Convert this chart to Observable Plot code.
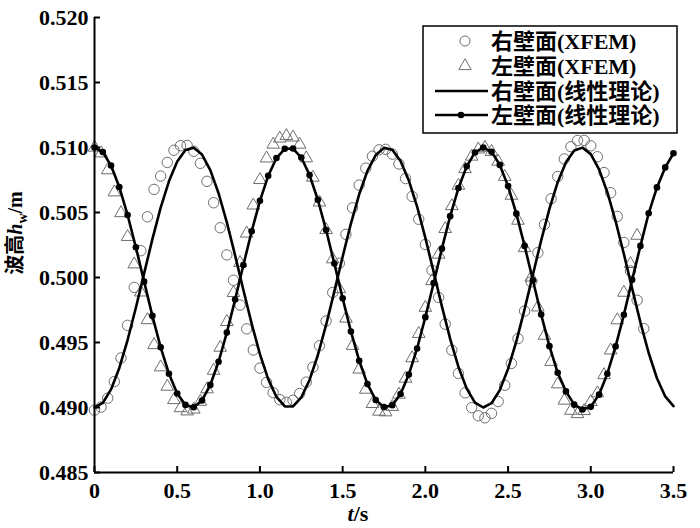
<!DOCTYPE html>
<html><head><meta charset="utf-8">
<script src="https://cdn.jsdelivr.net/npm/d3@7"></script>
<script src="https://cdn.jsdelivr.net/npm/@observablehq/plot@0.6"></script>
<style>body{margin:0;background:#fff;}</style>
</head><body><div id="chart"></div>
<script>
// time grid of the linear-theory curves (s)
const tLine = [0,0.05,0.1,0.15,0.2,0.25,0.3,0.35,0.4,0.45,0.5,0.55,0.6,0.65,0.7,0.75,0.8,0.85,0.9,0.95,1,1.05,1.1,1.15,1.2,1.25,1.3,1.35,1.4,1.45,1.5,1.55,1.6,1.65,1.7,1.75,1.8,1.85,1.9,1.95,2,2.05,2.1,2.15,2.2,2.25,2.3,2.35,2.4,2.45,2.5,2.55,2.6,2.65,2.7,2.75,2.8,2.85,2.9,2.95,3,3.05,3.1,3.15,3.2,3.25,3.3,3.35,3.4,3.45,3.5];
// right wall, linear theory (m)
const rightLinear = [0.49000,0.49035,0.49139,0.49304,0.49519,0.49767,0.50032,0.50295,0.50537,0.50740,
0.50892,0.50980,0.50998,0.50946,0.50826,0.50648,0.50424,0.50170,0.49904,0.49645,
0.49410,0.49218,0.49081,0.49010,0.49008,0.49077,0.49212,0.49402,0.49635,0.49893,
0.50160,0.50415,0.50640,0.50820,0.50942,0.50997,0.50982,0.50896,0.50747,0.50546,
0.50305,0.50043,0.49778,0.49528,0.49312,0.49145,0.49038,0.49000,0.49033,0.49134,
0.49297,0.49509,0.49757,0.50021,0.50285,0.50528,0.50733,0.50887,0.50977,0.50999,
0.50949,0.50832,0.50656,0.50434,0.50181,0.49915,0.49655,0.49419,0.49225,0.49085,
0.49011];
// left wall, linear theory (m)
const leftLinear = [0.51000,0.50965,0.50861,0.50696,0.50481,0.50233,0.49968,0.49705,0.49463,0.49260,
0.49108,0.49020,0.49002,0.49054,0.49174,0.49352,0.49576,0.49830,0.50096,0.50355,
0.50590,0.50782,0.50919,0.50990,0.50992,0.50923,0.50788,0.50598,0.50365,0.50107,
0.49840,0.49585,0.49360,0.49180,0.49058,0.49003,0.49018,0.49104,0.49253,0.49454,
0.49695,0.49957,0.50222,0.50472,0.50688,0.50855,0.50962,0.51000,0.50967,0.50866,
0.50703,0.50491,0.50243,0.49979,0.49715,0.49472,0.49267,0.49124,0.49022,0.48985,
0.49005,0.49099,0.49260,0.49470,0.49713,0.49982,0.50243,0.50494,0.50693,0.50847,
0.50956];
// time grid of the XFEM results (s)
const tXfem = [0,0.04,0.08,0.12,0.16,0.2,0.24,0.28,0.32,0.36,
0.4,0.44,0.48,0.52,0.56,0.6,0.64,0.68,0.72,0.76,
0.8,0.84,0.88,0.92,0.96,1,1.04,1.08,1.12,1.16,
1.2,1.24,1.28,1.32,1.36,1.4,1.44,1.48,1.52,1.56,
1.6,1.64,1.68,1.72,1.76,1.8,1.84,1.88,1.92,1.96,
2,2.04,2.08,2.12,2.16,2.2,2.24,2.28,2.32,2.36,
2.4,2.44,2.48,2.52,2.56,2.6,2.64,2.68,2.72,2.76,
2.8,2.84,2.88,2.92,2.96,3,3.04,3.08,3.12,3.16,
3.2,3.24,3.28,3.32];
// right wall, XFEM (m)
const rightXfem = [0.48980,0.49003,0.49072,0.49199,0.49381,0.49632,0.49924,0.50206,0.50467,0.50678,
0.50780,0.50885,0.50979,0.51014,0.51016,0.50971,0.50878,0.50740,0.50575,0.50383,
0.50174,0.49979,0.49788,0.49605,0.49442,0.49303,0.49193,0.49114,0.49060,0.49040,
0.49056,0.49108,0.49195,0.49310,0.49475,0.49666,0.49885,0.50110,0.50332,0.50536,
0.50711,0.50841,0.50933,0.50982,0.50986,0.50949,0.50873,0.50761,0.50624,0.50448,
0.50254,0.50055,0.49847,0.49641,0.49441,0.49262,0.49113,0.48999,0.48936,0.48921,
0.48955,0.49046,0.49171,0.49339,0.49530,0.49742,0.49966,0.50191,0.50408,0.50606,
0.50777,0.50912,0.51006,0.51054,0.51055,0.51013,0.50929,0.50807,0.50652,0.50470,
0.50269,0.50050,0.49825,0.49607];
// left wall, XFEM (m)
const leftXfem = [0.51000,0.50956,0.50826,0.50656,0.50496,0.50313,0.50102,0.49886,0.49673,0.49481,
0.49310,0.49161,0.49058,0.48996,0.48971,0.48985,0.49045,0.49141,0.49284,0.49461,
0.49659,0.49882,0.50113,0.50339,0.50555,0.50751,0.50917,0.51023,0.51070,0.51089,
0.51078,0.51023,0.50918,0.50769,0.50578,0.50366,0.50141,0.49911,0.49685,0.49475,
0.49293,0.49138,0.49028,0.48969,0.48964,0.49006,0.49100,0.49223,0.49380,0.49567,
0.49768,0.49973,0.50177,0.50374,0.50550,0.50707,0.50835,0.50931,0.50986,0.50999,
0.50967,0.50892,0.50775,0.50630,0.50438,0.50227,0.50000,0.49771,0.49553,0.49352,
0.49179,0.49054,0.48976,0.48950,0.48974,0.49044,0.49110,0.49250,0.49440,0.49672,
0.49884,0.50105,0.50322];
const xTicks = [0,0.5,1.0,1.5,2.0,2.5,3.0,3.5];
const yTicks = [0.485,0.490,0.495,0.500,0.505,0.510,0.515,0.520];
const legendLabels = ["右壁面(XFEM)","左壁面(XFEM)","右壁面(线性理论)","左壁面(线性理论)"];

const lines = tLine.map((t,i)=>({t, right: rightLinear[i], left: leftLinear[i]}));
const xr = rightXfem.map((h,i)=>({t: tXfem[i], h}));
const xl = leftXfem.map((h,i)=>({t: tXfem[i], h}));

const serif = "'Liberation Serif','Times New Roman',serif";
const mixed = "'Liberation Serif','Noto Sans CJK SC','Noto Sans CJK JP',serif";
const gray = "#6e6e6e";

const svg = Plot.plot({
  width: 700, height: 528,
  marginLeft: 94, marginRight: 27, marginTop: 17, marginBottom: 56,
  style: {background: "#fff", fontFamily: serif},
  x: {domain: [0, 3.5]},
  y: {domain: [0.485, 0.520]},
  marks: [
    Plot.dot(xr, {x: "t", y: "h", r: 5.2, stroke: gray, strokeWidth: 1, fill: "none"}),
    Plot.dot(xl, {x: "t", y: "h", r: 4.7, symbol: "triangle", stroke: gray, strokeWidth: 1, fill: "none"}),
    Plot.line(lines, {x: "t", y: "right", stroke: "#000", strokeWidth: 2.6}),
    Plot.line(lines, {x: "t", y: "left", stroke: "#000", strokeWidth: 2.6}),
    Plot.dot(lines, {x: "t", y: "left", r: 3.3, fill: "#000"}),
    Plot.ruleX([0], {stroke: "#000", strokeWidth: 2}),
    Plot.ruleY([0.485], {stroke: "#000", strokeWidth: 2}),
    Plot.axisX(xTicks, {tickSize: -6, tickPadding: 16, strokeWidth: 2, fontSize: 22, fontWeight: "bold", fill: "#000",
      tickFormat: d => d === 0 ? "0" : d.toFixed(1), label: null}),
    Plot.axisY(yTicks, {tickSize: -6, tickPadding: 12, strokeWidth: 2, fontSize: 22, fontWeight: "bold", fill: "#000",
      tickFormat: d => d.toFixed(3), label: null})
  ]
});
document.getElementById("chart").appendChild(svg);

const s = d3.select(svg);
// y label
const yl = s.append("text").attr("transform", "translate(22,233) rotate(-90)")
  .attr("text-anchor", "middle").attr("font-size", 20).attr("fill", "#000")
  .attr("font-family", mixed).attr("font-weight", "bold");
yl.append("tspan").text("波高");
yl.append("tspan").attr("font-style", "italic").text("h");
yl.append("tspan").attr("font-size", 14).attr("dy", 5).text("w");
yl.append("tspan").attr("dy", -5).text("/m");
// x label
const xlab = s.append("text").attr("x", 358).attr("y", 521).attr("text-anchor", "middle")
  .attr("font-size", 22).attr("fill", "#000").attr("font-family", serif).attr("font-weight", "bold");
xlab.append("tspan").attr("font-style", "italic").text("t");
xlab.append("tspan").text("/s");

// legend
const lg = s.append("g").attr("text-anchor", "start");
lg.append("rect").attr("x", 423).attr("y", 26).attr("width", 254).attr("height", 107)
  .attr("fill", "#fff").attr("stroke", "#000").attr("stroke-width", 1.5);
const rowY = [41, 66, 91, 115];
lg.append("circle").attr("cx", 465).attr("cy", rowY[0]).attr("r", 5).attr("fill", "none").attr("stroke", gray);
lg.append("path").attr("transform", `translate(465,${rowY[1]})`)
  .attr("d", d3.symbol(d3.symbolTriangle, Math.PI * 4.6 * 4.6)()).attr("fill", "none").attr("stroke", gray);
lg.append("line").attr("x1", 435).attr("x2", 488).attr("y1", rowY[2]).attr("y2", rowY[2]).attr("stroke", "#000").attr("stroke-width", 2.4);
lg.append("line").attr("x1", 435).attr("x2", 488).attr("y1", rowY[3]).attr("y2", rowY[3]).attr("stroke", "#000").attr("stroke-width", 2.4);
lg.append("circle").attr("cx", 461).attr("cy", rowY[3]).attr("r", 3.3).attr("fill", "#000");
legendLabels.forEach((lab, i) => {
  lg.append("text").attr("x", 491).attr("y", rowY[i] + 8).attr("font-size", 22)
    .attr("fill", "#000").attr("text-anchor", "start")
    .attr("font-family", mixed).attr("font-weight", "bold").text(lab);
});
</script>
</body></html>
